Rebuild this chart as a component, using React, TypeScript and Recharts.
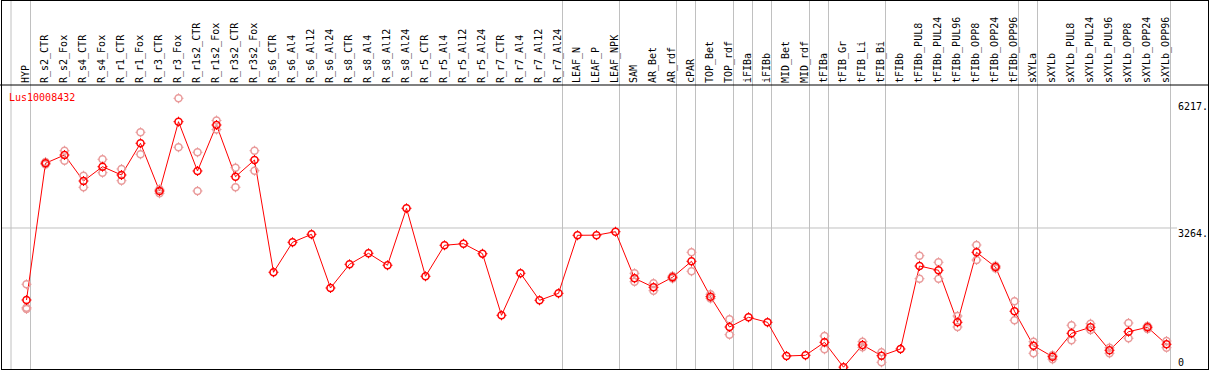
import React from "react";
import {
  LineChart,
  Line,
  XAxis,
  YAxis,
  ReferenceLine,
} from "recharts";

const categories = [
  "HYP", "R_s2_CTR", "R_s2_Fox", "R_s4_CTR", "R_s4_Fox", "R_r1_CTR", "R_r1_Fox",
  "R_r3_CTR", "R_r3_Fox", "R_r1s2_CTR", "R_r1s2_Fox", "R_r3s2_CTR", "R_r3s2_Fox",
  "R_s6_CTR", "R_s6_Al4", "R_s6_Al12", "R_s6_Al24", "R_s8_CTR", "R_s8_Al4",
  "R_s8_Al12", "R_s8_Al24", "R_r5_CTR", "R_r5_Al4", "R_r5_Al12", "R_r5_Al24",
  "R_r7_CTR", "R_r7_Al4", "R_r7_Al12", "R_r7_Al24", "LEAF_N", "LEAF_P", "LEAF_NPK",
  "SAM", "AR_Bet", "AR_rdf", "cPAR", "TOP_Bet", "TOP_rdf", "iFIBa", "iFIBb",
  "MID_Bet", "MID_rdf", "tFIBa", "tFIB_Gr", "tFIB_Li", "tFIB_Bi", "tFIBb",
  "tFIBb_PUL8", "tFIBb_PUL24", "tFIBb_PUL96", "tFIBb_OPP8", "tFIBb_OPP24",
  "tFIBb_OPP96", "sXYLa", "sXYLb", "sXYLb_PUL8", "sXYLb_PUL24", "sXYLb_PUL96",
  "sXYLb_OPP8", "sXYLb_OPP24", "sXYLb_OPP96",
];

// mean expression per sample
const meanValues = [
  1597, 4762, 4954, 4352, 4683, 4491, 5225, 4121, 5725, 4584, 5648, 4452, 4838,
  2239, 2933, 3118, 1875, 2424, 2678, 2401, 3720, 2146, 2864, 2901, 2669,
  1243, 2215, 1590, 1752, 3095, 3098, 3178,
  2100, 1891, 2123, 2493, 1674, 972, 1197, 1081, 301, 317, 618, 42, 556, 308, 463,
  2384, 2285, 1081, 2701, 2361, 1336, 539, 285, 826, 965, 433, 863, 965, 572,
];

// replicates
const rep1 = [
  1961, 4792, 5053, 4475, 4854, 4630, 5479, 4160, 6266, 5016, 5753, 4660, 5053,
  null, null, null, null, null, null, null, null, null, null, null, null,
  null, null, null, null, null, null, null,
  2215, 1984, 2153, 2701, 1729, 1150, null, null, null, null, 764, null, 632, 387, null,
  2623, 2470, 1227, 2870, 2391, 1567, 632, 317, 1012, 1049, 493, 1065, 995, 648,
];

const rep2 = [
  1420, 4734, 4822, 4206, 4544, 4359, 4970, 4067, 5132, 4121, 5544, 4206, 4590,
  null, null, null, null, null, null, null, null, null, null, null, null,
  null, null, null, null, null, null, null,
  2021, 1813, 2095, 2262, 1632, 794, null, null, null, null, 456, null, 502, 155, null,
  2090, 2090, 972, 2523, 2326, 1127, 363, 225, 664, 903, 363, 711, 926, 493,
];

const rep3: (number | null)[] = categories.map((c) => (c === "HYP" ? 1390 : null));

const yTicks = [0, 3264, 6217];
const gridValue = 3264;
const Y_MAX = 6574;

// last sample of each group (gray separator drawn after it)
const groupEnds = [
  "HYP", "R_r7_Al24", "LEAF_NPK", "AR_rdf", "cPAR", "TOP_rdf", "iFIBa", "iFIBb",
  "MID_rdf", "tFIBa", "tFIB_Bi", "tFIBb_OPP96", "sXYLa", "sXYLb_OPP96",
];

const geneName = "Lus10008432";

const data = categories.map((name, i) => ({
  name,
  mean: meanValues[i],
  r1: rep1[i],
  r2: rep2[i],
  r3: rep3[i],
}));

const FONT = "DejaVu Sans Mono";
const W = 1209;
const H = 370;
const BAND = 19;

const makeDot = (color: string) => (props: any) => {
  const { cx, cy, index, value } = props;
  if (cx == null || cy == null || value == null) return <g key={`e${index}`} />;
  const r = 3.5;
  return (
    <g key={`d${index}`}>
      <circle cx={cx} cy={cy} r={r} fill="none" stroke={color} strokeWidth={1.5} />
      <line x1={cx} y1={cy - r - 1.5} x2={cx} y2={cy - r} stroke={color} />
      <line x1={cx} y1={cy + r} x2={cx} y2={cy + r + 1.5} stroke={color} />
      <line x1={cx - r - 1.5} y1={cy} x2={cx - r} y2={cy} stroke={color} />
      <line x1={cx + r} y1={cy} x2={cx + r + 1.5} y2={cy} stroke={color} />
    </g>
  );
};

const CategoryTick = (props: any) => {
  const { x, payload } = props;
  return (
    <text
      transform={`translate(${x + 2.5},83) rotate(-90)`}
      textAnchor="start"
      fontFamily={FONT}
      fontSize={10}
      fill="#000"
    >
      {payload.value}
    </text>
  );
};

const ValueTick = (props: any) => {
  const { x, y, payload } = props;
  const ty = Math.min(y + 2, H - 11);
  return (
    <text
      x={x}
      y={ty}
      dominantBaseline="hanging"
      textAnchor="start"
      fontFamily={FONT}
      fontSize={10}
      fill="#000"
    >
      {payload.value === 0 ? "0" : `${payload.value}.`}
    </text>
  );
};

const sepShape = (offset: number) => (p: any) => (
  <line
    x1={p.x1 + offset}
    x2={p.x1 + offset}
    y1={0}
    y2={H - 1}
    stroke="#c0c0c0"
    strokeWidth={1}
  />
);

export default function App() {
  return (
    <div style={{ position: "absolute", left: 0, top: 0, width: W, height: H, background: "#fff" }}>
      <LineChart
        width={W}
        height={H}
        data={data}
        margin={{ top: 0, right: 0, bottom: 1, left: 17 }}
      >
        <XAxis
          dataKey="name"
          orientation="top"
          height={85}
          interval={0}
          padding={{ left: BAND / 2, right: BAND / 2 }}
          axisLine={false}
          tickLine={false}
          tick={<CategoryTick />}
        />
        <YAxis
          orientation="right"
          width={33}
          domain={[0, Y_MAX]}
          ticks={yTicks}
          interval={0}
          axisLine={false}
          tickLine={false}
          tickSize={0}
          tickMargin={2}
          tick={<ValueTick />}
        />
        <ReferenceLine
          y={gridValue}
          shape={(p: any) => (
            <line
              x1={1}
              x2={Math.max(p.x1 ?? 0, p.x2 ?? 0, W - 33) + 1}
              y1={p.y1}
              y2={p.y1}
              stroke="#c0c0c0"
            />
          )}
        />
        <ReferenceLine x={categories[0]} shape={sepShape(4 - BAND - 0.5)} />
        {groupEnds.map((c) => (
          <ReferenceLine key={c} x={c} shape={sepShape(4)} />
        ))}
        <ReferenceLine
          y={Y_MAX}
          shape={(p: any) => (
            <line x1={0} x2={W} y1={p.y1} y2={p.y1} stroke="#000" />
          )}
        />
        {["r1", "r2", "r3"].map((k) => (
          <Line
            key={k}
            dataKey={k}
            stroke="none"
            isAnimationActive={false}
            dot={makeDot("#e99a9a")}
            activeDot={false}
            legendType="none"
          />
        ))}
        <Line
          dataKey="mean"
          stroke="#ff0000"
          strokeWidth={1}
          isAnimationActive={false}
          dot={makeDot("#ff0000")}
          activeDot={false}
        />
      </LineChart>
      <div
        style={{
          position: "absolute",
          left: 9,
          top: 92.5,
          fontFamily: FONT,
          fontSize: 10,
          lineHeight: "10px",
          color: "#ff0000",
        }}
      >
        {geneName}
      </div>
      <div
        style={{
          position: "absolute",
          left: 1,
          top: 0,
          width: W - 1,
          height: H,
          border: "1px solid #000",
          boxSizing: "border-box",
          pointerEvents: "none",
        }}
      />
    </div>
  );
}
